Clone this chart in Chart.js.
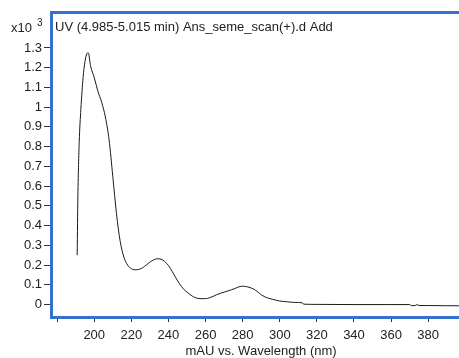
<!DOCTYPE html>
<html>
<head>
<meta charset="utf-8">
<script src="https://cdn.jsdelivr.net/npm/chart.js@4"></script>
<style>
  html, body { margin: 0; padding: 0; background: #fff; }
  #box { width: 459px; height: 358px; }
</style>
</head>
<body>
<div id="box"><canvas id="espectro"></canvas></div>
<script>
// comprimento de onda (nm) e absorbancia (x10^3 mAU)
var comprimentos = [190.8, 191.2, 191.9, 192.8, 194, 195, 196, 196.8, 198, 200, 202, 204, 206, 208, 210, 212, 214, 216, 218, 220,
  222, 224, 226, 228, 230, 232, 234, 236, 238, 240, 242, 244, 246, 248, 250, 252, 254, 256, 258, 260,
  262, 264, 266, 268, 270, 272, 274, 276, 278, 280, 282, 284, 286, 288, 290, 292, 294, 296, 298, 300,
  304, 308, 312, 313, 320, 340, 360, 370, 371, 373, 374, 375, 380, 390, 397];
var absorbancia = [0.25, 0.55, 0.82, 0.99, 1.15, 1.23, 1.27, 1.275, 1.21, 1.15, 1.08, 1.025, 0.95, 0.835, 0.65, 0.46, 0.32, 0.24, 0.20, 0.182,
  0.176, 0.178, 0.186, 0.20, 0.215, 0.226, 0.232, 0.23, 0.218, 0.198, 0.168, 0.135, 0.105, 0.08, 0.063, 0.048, 0.037, 0.031, 0.03, 0.03,
  0.034, 0.041, 0.05, 0.057, 0.063, 0.069, 0.075, 0.082, 0.09, 0.093, 0.091, 0.086, 0.078, 0.065, 0.05, 0.039, 0.032, 0.027, 0.022, 0.018,
  0.014, 0.011, 0.009, 0.002, 0.001, 0.0, 0.0, 0.0, -0.005, -0.005, 0.0, -0.005, -0.005, -0.006, -0.006];

var ticksX = [180, 200, 220, 240, 260, 280, 300, 320, 340, 360, 380];
var ticksY = [0, 0.1, 0.2, 0.3, 0.4, 0.5, 0.6, 0.7, 0.8, 0.9, 1, 1.1, 1.2, 1.3];

var titulo = "UV (4.985-5.015 min) Ans_seme_scan(+).d Add";
var tituloX = "mAU vs. Wavelength (nm)";

var fonte = "'Liberation Sans', Arial, sans-serif";

var pontos = [];
for (var i = 0; i < comprimentos.length; i++) {
  pontos.push({ x: comprimentos[i], y: absorbancia[i] });
}

// moldura azul e textos
var moldura = {
  id: "moldura",
  afterDraw: function (chart) {
    var ctx = chart.ctx;
    var a = chart.chartArea;
    ctx.save();
    ctx.strokeStyle = "#3470d0";
    ctx.lineWidth = 3;
    ctx.beginPath();
    ctx.moveTo(a.right + 2, a.top + 0.5);
    ctx.lineTo(a.left + 0.5, a.top + 0.5);
    ctx.lineTo(a.left + 0.5, a.bottom + 0.5);
    ctx.lineTo(a.right + 2, a.bottom + 0.5);
    ctx.stroke();

    ctx.fillStyle = "#222";
    ctx.textBaseline = "alphabetic";
    ctx.textAlign = "left";
    ctx.font = "13px " + fonte;
    ctx.fillText(titulo, 55, 31);
    ctx.fillText("x10", 11, 32);
    ctx.font = "10px " + fonte;
    ctx.fillText("3", 37, 26);

    ctx.font = "13px " + fonte;
    ctx.textAlign = "center";
    ctx.fillText(tituloX, 261, 355);
    ctx.restore();
  },
};

new Chart(espectro, {
  type: "line",
  data: {
    datasets: [
      {
        data: pontos,
        borderColor: "#1a1a1a",
        borderWidth: 1,
        pointRadius: 0,
        fill: false,
        cubicInterpolationMode: "monotone",
      },
    ],
  },
  options: {
    responsive: true,
    maintainAspectRatio: false,
    animation: false,
    layout: {
      padding: { top: 12, left: 0, right: 0, bottom: 0 },
    },
    scales: {
      x: {
        type: "linear",
        min: 176.7,
        max: 396.6,
        border: { display: false },
        grid: {
          display: true,
          drawOnChartArea: false,
          drawTicks: true,
          tickLength: 5,
          color: "#333",
        },
        afterBuildTicks: function (scale) {
          scale.ticks = ticksX.map(function (v) {
            return { value: v };
          });
        },
        afterFit: function (scale) {
          scale.height = 41;
        },
        ticks: {
          autoSkip: false,
          maxRotation: 0,
          padding: 6,
          color: "#222",
          font: { family: fonte, size: 13 },
          callback: function (v) {
            return v == 180 ? "" : String(v);
          },
        },
      },
      y: {
        min: -0.063,
        max: 1.482,
        border: { display: false },
        grid: {
          display: true,
          drawOnChartArea: false,
          drawTicks: true,
          tickLength: 7,
          color: "#333",
        },
        afterBuildTicks: function (scale) {
          scale.ticks = ticksY.map(function (v) {
            return { value: v };
          });
        },
        afterFit: function (scale) {
          scale.width = 51;
        },
        ticks: {
          autoSkip: false,
          padding: 2,
          color: "#222",
          font: { family: fonte, size: 13 },
          callback: function (v) {
            return String(Math.round(v * 10) / 10);
          },
        },
      },
    },
    plugins: {
      legend: { display: false },
      tooltip: { enabled: false },
    },
  },
  plugins: [moldura],
});
</script>
</body>
</html>
